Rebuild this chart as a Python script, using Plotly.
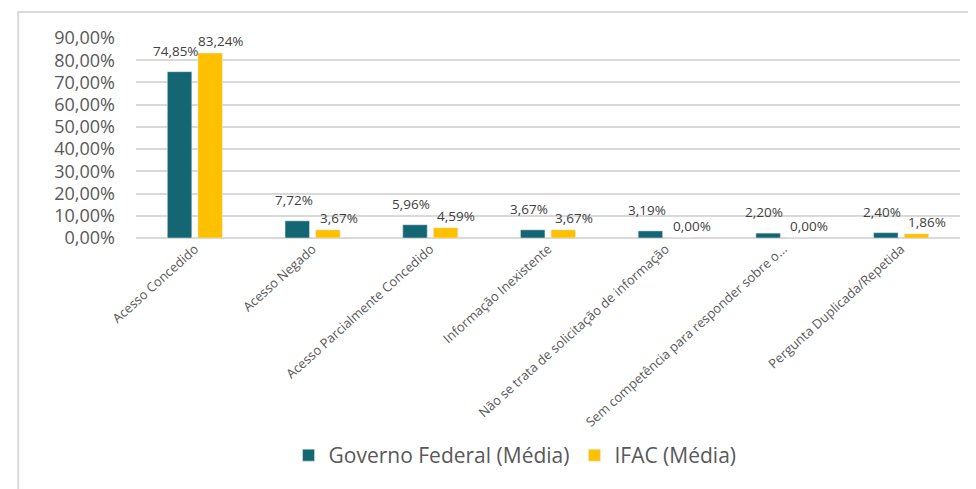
import plotly.graph_objects as go

categorias = [
    "Acesso Concedido",
    "Acesso Negado",
    "Acesso Parcialmente Concedido",
    "Informação Inexistente",
    "Não se trata de solicitação de informação",
    "Sem competência para responder sobre o...",
    "Pergunta Duplicada/Repetida",
]
gov_federal = [74.85, 7.72, 5.96, 3.67, 3.19, 2.20, 2.40]
ifac = [83.24, 3.67, 4.59, 3.67, 0.00, 0.00, 1.86]
y_ticks = [0, 10, 20, 30, 40, 50, 60, 70, 80, 90]

TEAL = "#156673"
YELLOW = "#FFC000"
GRAY = "#595959"


def fmt(v):
    return f"{v:.2f}".replace(".", ",") + "%"


fig = go.Figure()
fig.add_bar(x=categorias, y=gov_federal, name="Governo Federal (Média)",
            marker_color=TEAL, hoverinfo="skip")
fig.add_bar(x=categorias, y=ifac, name="IFAC (Média)",
            marker_color=YELLOW, hoverinfo="skip")

# rótulos de dados
for c, g, i in zip(categorias, gov_federal, ifac):
    fig.add_annotation(x=c, y=g, text=fmt(g), showarrow=False, xshift=-19,
                       yanchor="bottom", yshift=10,
                       font=dict(family="Open Sans", size=13.5, color="#404040"))
    fig.add_annotation(x=c, y=i, text=fmt(i), showarrow=False, xshift=26,
                       yanchor="bottom", yshift=1,
                       font=dict(family="Open Sans", size=13.5, color="#404040"))

# moldura do gráfico
fig.add_shape(type="rect", xref="paper", yref="paper",
              x0=-0.143, x1=1.2, y0=-1.3, y1=1.13,
              line=dict(color="#D9D9D9", width=2), layer="below")

# a página tem 8px de margem no body: figura um pouco menor
fig.update_layout(
    width=968, height=481,
    margin=dict(l=128, r=16, t=30, b=251, autoexpand=False),
    paper_bgcolor="white", plot_bgcolor="white",
    barmode="group", bargap=0.48, bargroupgap=0.2,
    font=dict(family="Open Sans", color=GRAY),
    showlegend=True,
    legend=dict(orientation="h", x=0.46, xanchor="center", y=-0.985, yanchor="top",
                font=dict(size=21, color=GRAY), itemwidth=30, traceorder="normal"),
)
fig.update_yaxes(range=[0, 90], tickvals=y_ticks,
                 ticktext=[fmt(v) for v in y_ticks], automargin=False,
                 tickfont=dict(size=18, color=GRAY), ticklabelstandoff=20,
                 showgrid=True, gridcolor="#D9D9D9", gridwidth=2,
                 zeroline=True, zerolinecolor="#D9D9D9", zerolinewidth=2,
                 showline=False)
fig.update_xaxes(tickangle=-42, tickfont=dict(size=13, color=GRAY),
                 automargin=False, showline=False, ticks="")

fig.write_html("out.html")
